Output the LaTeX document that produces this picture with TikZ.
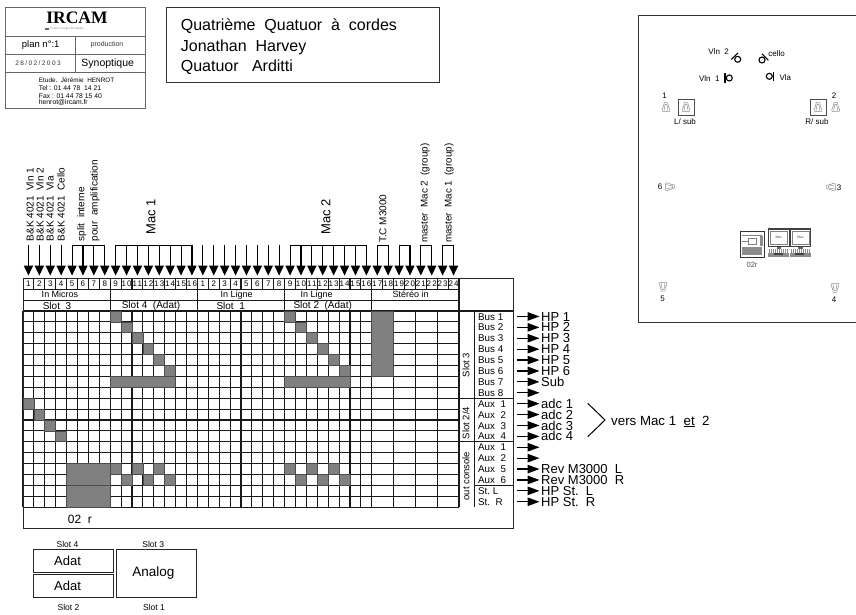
\documentclass[tikz,border=0pt]{standalone}
\usepackage{fontspec}
\setmainfont{Liberation Sans}
\newfontfamily\numfont[LetterSpace=14]{Liberation Sans}
\newfontfamily\datefont[LetterSpace=22]{Liberation Sans}
\newfontfamily\serifbold{Liberation Serif}
\usetikzlibrary{arrows.meta}
\newcommand{\txtsize}[1]{\fontsize{#1}{#1}\selectfont}
\definecolor{cellgray}{gray}{0.5}
\definecolor{boxgray}{gray}{0.4}
\definecolor{spkgray}{gray}{0.55}
\tikzset{
  txt/.style={inner sep=0pt,font=\txtsize{#1}},
  sidetxt/.style={inner sep=0pt,font=\txtsize{#1},rotate=90,anchor=west},
  numcell/.style={inner sep=0pt,minimum width=10.9pt,minimum height=10.9pt,font=\numfont\txtsize{8}},
  grid line/.style={line width=1.05pt,black!90},
  cell/.style={fill=cellgray,draw=black!70,line width=0.7pt},
  inarrow/.style={line width=1.1pt,-{Triangle[length=10pt,width=9.2pt]},shorten >=2.6pt},
  outarrow/.style={line width=1.2pt,-{Triangle[length=12pt,width=8.5pt]}},
  bracket/.style={line width=1pt},
  speaker/.pic={
    \draw[spkgray,line width=0.5pt,line join=round] (-1.8,-4.4) -- (1.8,-4.4) -- (2.4,-1) -- (4,3) -- (3.4,4.4) -- (-3.4,4.4) -- (-4,3) -- (-2.4,-1) -- cycle;
    \draw[spkgray,line width=0.5pt] (-2,3.6) -- (-0.9,-2.6) -- (0.9,-2.6) -- (2,3.6);
  },
  player/.pic={
    \draw[line width=1.1pt] (0,0) circle (3);
    \draw[line width=1.1pt] (-4.3,-4.6) -- (-4.3,4.6);
  },
  station/.pic={
    \draw[line width=1.2pt,black!75] (0,0) rectangle (20.5,17.5);
    \draw[line width=0.5pt,gray] (2,2) rectangle (18.5,15.5);
    \fill[black!60] (8,17.5) rectangle (12.5,19.5);
    \fill[black!45] (-0.5,20) rectangle (20.5,27.5);
    \fill[black!75] (5,24) rectangle (14,26);
    \foreach \k in {0,2,...,20} {\draw[white,line width=0.3pt] (\k,20) -- (\k,24);}
  },
}
\begin{document}
\begin{tikzpicture}[x=1pt,y=-1pt]
  \useasboundingbox (0,0) rectangle (856,615);

  % cartouche
  \draw[boxgray,line width=0.9pt] (5.7,7.3) rectangle (145,108);
  \draw[boxgray,line width=0.9pt] (5.7,36) -- (145,36) (5.7,54.3) -- (145,54.3) (5.7,72.3) -- (145,72.3) (75,36) -- (75,72.3);
  \node[inner sep=0pt,font=\serifbold\bfseries\txtsize{17.5}] (ircam) at (77,17.5) {IRCAM};
  \fill[black!60] (45,27.8) rectangle (49,30.2);
  \node[txt=3.2,gray,anchor=west] (centre) at (50,29) {\serifbold Centre Georges Pompidou};
  \node[txt=9.5] (plan) at (40.7,45) {plan n°:1};
  \node[txt=7,black!80] (prod) at (107,45) {production};
  \node[inner sep=0pt,font=\datefont\txtsize{6.5},black!80] (date) at (38,63.3) {28/02/2003};
  \node[txt=10.5] (synop) at (107.7,63.5) {Synoptique};
  \node[txt=6.4,anchor=west] (etude) at (38.7,80) {Etude.~~Jérémie~~HENROT};
  \node[txt=6.8,anchor=west] (tel) at (38.7,88) {Tel : 01 44 78~~14 21};
  \node[txt=6.8,anchor=west] (fax) at (38.7,95.7) {Fax : 01 44 78 15 40};
  \node[txt=6.8,anchor=west] (mail) at (38.7,103) {henrot@ircam.fr};

  % titre
  \draw[black!80,line width=1pt] (166.7,7.3) rectangle (439.3,82.7);
  \node[txt=16,anchor=base west] (piece) at (180.7,30.7) {Quatrième~~Quatuor~~à~~cordes};
  \node[txt=16,anchor=base west] (composer) at (180.7,51.7) {Jonathan~~Harvey};
  \node[txt=16,anchor=base west] (quartet) at (180.7,72) {Quatuor~~~Arditti};

  % plateau
  \draw[black!80,line width=1.1pt] (856,15.3) -- (638.7,15.3) -- (638.7,322.7) -- (856,322.7);
  \pic at (729.3,78) {player};
  \pic[rotate=-45] at (737.7,59.3) {player};
  \pic[rotate=-135] at (762,60) {player};
  \pic[rotate=180] at (769.3,76.3) {player};
  \node[txt=8] (vln1) at (709.3,79) {Vln~~1};
  \node[txt=8] (vln2) at (718.7,51.7) {Vln~~2};
  \node[txt=8] (cello) at (776.7,53.3) {cello};
  \node[txt=8] (vla) at (785.3,77.7) {Vla};
  \pic at (666,107) {speaker};
  \pic at (686,107) {speaker};
  \pic at (818,107) {speaker};
  \pic at (835.7,107) {speaker};
  \pic[rotate=-90] at (670,186.7) {speaker};
  \pic[rotate=90] at (831,187) {speaker};
  \pic[rotate=180] at (663,286.7) {speaker};
  \pic[rotate=180] at (835,288) {speaker};
  \draw[black!70,line width=0.6pt] (678,99) rectangle (694,115) (810,99) rectangle (826,115);
  \node[txt=8] (hp1) at (664.7,96) {1};
  \node[txt=8] (hp2) at (834,96) {2};
  \node[txt=8] (hp3) at (839,187.5) {3};
  \node[txt=8] (hp4) at (834,299.5) {4};
  \node[txt=8] (hp5) at (662.7,299) {5};
  \node[txt=8] (hp6) at (660,187) {6};
  \node[txt=8] (lsub) at (685,121.7) {L/ sub};
  \node[txt=8] (rsub) at (817,121.7) {R/ sub};
  \draw[black!80,line width=1pt] (740,231) rectangle (764,257);
  \draw[gray,line width=0.5pt] (742,235) -- (762,235) (748,238) rectangle (756,244) (742,241) -- (748,241);
  \fill[black!45] (742,247) rectangle (762,255);
  \fill[black!45] (760,236) rectangle (763,246);
  \node[txt=7.5,black!70] (desk) at (752,265) {02r};
  \pic at (768.6,229) {station};
  \pic at (790.3,229) {station};
  \node[txt=3.5,black!70] (mac1s) at (778.8,237.5) {Mac};
  \node[txt=3.5,black!70] (mac2s) at (800.5,237.5) {Mac};

  % grille
  \foreach \c in {0,...,32,34,36,38,40} {\draw[grid line] (23+\c*10.9,311) -- (23+\c*10.9,507.2);}
  \foreach \r in {1,...,18} {\draw[grid line] (23,311+\r*10.9) -- (459,311+\r*10.9);}
  \foreach \c in {1,...,39} {\draw[grid line] (23+\c*10.9,278.3) -- (23+\c*10.9,289.2);}
  \foreach \c in {8,16,24,32} {\draw[grid line] (23+\c*10.9,289.2) -- (23+\c*10.9,311);}
  \draw[grid line] (23,289.2) -- (459,289.2) (23,300.1) -- (459,300.1) (23,311) -- (513.5,311);
  \draw[grid line] (459,278.3) -- (459,507.2) (474.3,311) -- (474.3,507.2);
  \draw[grid line] (459,398.2) -- (513.5,398.2) (459,441.8) -- (513.5,441.8) (474.3,485.4) -- (513.5,485.4);
  \draw[black!85,line width=1pt] (23,278.3) rectangle (513.5,528.3);

  % cases grises
  \foreach \c/\r in {9/1,10/2,11/3,12/4,13/5,14/6,25/1,26/2,27/3,28/4,29/5,30/6,
      1/9,2/10,3/11,4/12,9/15,11/15,13/15,10/16,12/16,14/16,25/15,27/15,29/15,26/16,28/16,30/16}
    {\draw[cell] (23+\c*10.9-10.9,311+\r*10.9-10.9) rectangle +(10.9,10.9);}
  \draw[cell] (23+8*10.9,311+6*10.9) rectangle +(6*10.9,10.9);
  \draw[cell] (23+24*10.9,311+6*10.9) rectangle +(6*10.9,10.9);
  \draw[cell] (23+32*10.9,311) rectangle +(2*10.9,6*10.9);
  \draw[cell] (23+4*10.9,311+14*10.9) rectangle +(4*10.9,2*10.9);
  \draw[cell] (23+4*10.9,311+16*10.9) rectangle +(4*10.9,2*10.9);

  % entrees
  \foreach \i in {1,...,40} {
    \pgfmathtruncatemacro{\lab}{\i>16 ? \i-16 : \i}
    \node[numcell] (num\i) at (23+\i*10.9-5.45,283.8) {\lab};
    \coordinate (top\i) at (23+\i*10.9-5.45,245);
    \draw[inarrow] (top\i) -- (num\i);
  }
  \foreach \a/\b in {5/8,9/16,25/32,33/34,35/36,37/38,39/40} {\draw[bracket] (top\a) -- (top\b);}
  \node[txt=9] (micros) at (60,294.7) {In Micros};
  \node[txt=9] (ligne1) at (236.7,294.7) {In Ligne};
  \node[txt=9] (ligne2) at (316.7,294.7) {In Ligne};
  \node[txt=9] (stereo) at (410.7,294.7) {Stéréo in};
  \node[txt=10] (slot3a) at (57,305.7) {Slot~~3};
  \node[txt=10] (slot4a) at (151,305.7) {Slot 4~~(Adat)};
  \node[txt=10] (slot1a) at (230.7,305.7) {Slot~~1};
  \node[txt=10] (slot2a) at (322.7,305.7) {Slot 2~~(Adat)};

  \node[sidetxt=10] (mic1) at (30,241.5) {B\&K 4021~~Vln 1};
  \node[sidetxt=10] (mic2) at (40,241.5) {B\&K 4021~~Vln 2};
  \node[sidetxt=10] (mic3) at (50,241.5) {B\&K 4021~~Vla};
  \node[sidetxt=10] (mic4) at (61,241.5) {B\&K 4021~~Cello};
  \node[sidetxt=10] (split) at (81.7,241.5) {split~~interne};
  \node[sidetxt=10] (pour) at (95,241.5) {pour~~amplification};
  \node[sidetxt=13] (mac1) at (151,234.5) {Mac 1};
  \node[sidetxt=13] (mac2) at (326,234.5) {Mac 2};
  \node[sidetxt=10] (tc) at (383,243) {T.C M3000};
  \node[sidetxt=9.8] (master2) at (425,243) {master~~Mac 2~~(group)};
  \node[sidetxt=9.8] (master1) at (449,243) {master~~Mac 1~~(group)};

  % sorties
  \foreach \r/\lab in {1/Bus 1,2/Bus 2,3/Bus 3,4/Bus 4,5/Bus 5,6/Bus 6,7/Bus 7,8/Bus 8,
      9/Aux~~1,10/Aux~~2,11/Aux~~3,12/Aux~~4,13/Aux~~1,14/Aux~~2,15/Aux~~5,16/Aux~~6,17/St.~L,18/St.~~R} {
    \node[txt=9.8,anchor=base west] (bus\r) at (478,311+\r*10.9-5.45+3.6) {\lab};
    \coordinate (outa\r) at (516.5,311+\r*10.9-5.45);
    \coordinate (outb\r) at (539.5,311+\r*10.9-5.45);
    \draw[outarrow] (outa\r) -- (outb\r);
  }
  \foreach \r/\lab in {1/HP 1,2/HP 2,3/HP 3,4/HP 4,5/HP 5,6/HP 6,7/Sub,9/adc 1,10/adc 2,11/adc 3,12/adc 4,
      15/Rev M3000~~L,16/Rev M3000~~R,17/HP St.~~L,18/HP St.~~R}
    {\node[txt=13,anchor=base west] (dest\r) at (541,311+\r*10.9-5.45+4.6) {\lab};}
  \node[sidetxt=9.5,anchor=center] (slot3b) at (466,365) {Slot 3};
  \node[sidetxt=9.5,anchor=center] (slot24) at (466,423) {Slot 2/4};
  \node[sidetxt=9.5,anchor=center] (console) at (466,476) {out console};
  \node[txt=12] (desk2) at (80,519) {02~~r};

  % vers Mac
  \coordinate (chevA) at (587.7,403.3);
  \coordinate (chevB) at (605,420);
  \coordinate (chevC) at (587.7,436.7);
  \draw[line width=1pt] (chevA) -- (chevB) -- (chevC);
  \node[txt=13.3,anchor=base west] (vers) at (611,425) {vers Mac 1~~\underline{et}~~2};

  % cartes
  \draw[black!85,line width=1pt] (33.3,549.3) rectangle (113.7,572.3);
  \draw[black!85,line width=1pt] (33.3,574.3) rectangle (113.7,597.3);
  \draw[black!85,line width=1pt] (116.3,549.3) rectangle (196.7,597.3);
  \node[txt=13] (adat1) at (67.5,561) {Adat};
  \node[txt=13] (adat2) at (67.5,586) {Adat};
  \node[txt=13.5] (analog) at (153.3,573) {Analog};
  \node[txt=8.5] (slotd) at (67.5,544) {Slot 4};
  \node[txt=8.5] (slotc) at (153.3,544) {Slot 3};
  \node[txt=8.5] (slotb) at (68.5,607) {Slot 2};
  \node[txt=8.5] (slota) at (154,607) {Slot 1};
\end{tikzpicture}
\end{document}
